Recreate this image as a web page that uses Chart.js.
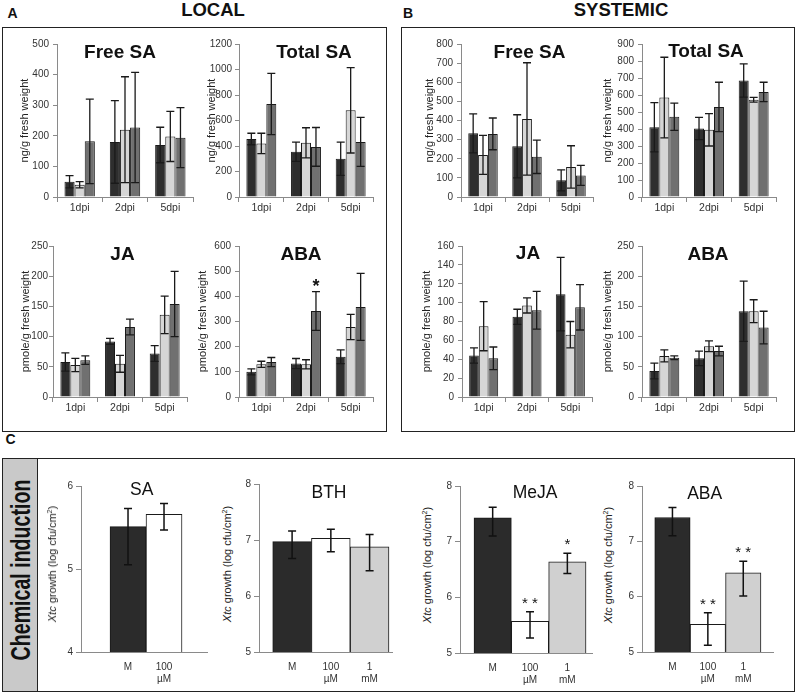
<!DOCTYPE html>
<html><head><meta charset="utf-8">
<script src="https://cdn.jsdelivr.net/npm/chart.js@4.4.1/dist/chart.umd.min.js"></script>
<style>
body{margin:0;width:797px;height:693px;background:#fff;position:relative;overflow:hidden;font-family:'Liberation Sans',Arial,sans-serif;color:#111}
.t{position:absolute;transform:translate(-50%,-50%);white-space:nowrap;line-height:1;z-index:5}
.box{position:absolute;box-sizing:border-box;border:1.5px solid #222}
.vt{position:absolute;transform:translate(-50%,-50%) rotate(-90deg);white-space:nowrap;line-height:1;z-index:5}
canvas{position:absolute}
</style></head>
<body>
<div class="box" style="left:2px;top:27px;width:385px;height:405px"></div>
<div class="box" style="left:401px;top:27px;width:394px;height:405px"></div>
<div class="box" style="left:2px;top:458px;width:793px;height:234px"></div>
<div style="position:absolute;left:2px;top:458px;width:36px;height:234px;box-sizing:border-box;background:#c9c9c9;border:1.5px solid #222"></div>
<div class="t" style="left:12.5px;top:13px;font-size:14px;font-weight:bold">A</div>
<div class="t" style="left:408px;top:13px;font-size:14px;font-weight:bold">B</div>
<div class="t" style="left:10.5px;top:439px;font-size:14px;font-weight:bold">C</div>
<div class="t" style="left:213px;top:10px;font-size:18.5px;font-weight:bold">LOCAL</div>
<div class="t" style="left:621px;top:10px;font-size:18.5px;font-weight:bold">SYSTEMIC</div>
<div class="vt" style="left:21px;top:570px;font-size:28px;font-weight:bold"><span style="display:inline-block;transform:scaleX(0.7)">Chemical induction</span></div>
<script>
// ---------- DATA ----------
const dpiLabels = ['1dpi', '2dpi', '5dpi'];
// each array: [dark series, light series, medium series], values per dpi
const localFreeSA      = [[50, 180, 170], [40, 220, 198], [182, 227, 194]];
const localFreeSAErr   = [[20, 135, 58], [10, 173, 82], [138, 180, 98]];
const localTotalSA     = [[455, 355, 300], [420, 425, 680], [730, 393, 432]];
const localTotalSAErr  = [[45, 75, 130], [80, 118, 335], [240, 152, 192]];
const localJA          = [[58, 92, 72], [53, 55, 136], [61, 116, 154]];
const localJAErr       = [[15, 5, 13], [11, 14, 31], [7, 13, 54]];
const localABA         = [[100, 133, 160], [130, 130, 278], [139, 342, 358]];
const localABAErr      = [[12, 20, 27], [12, 18, 50], [18, 77, 133]];
const localABAStars    = [['', '', ''], ['', '', ''], ['', '*', '']];

const sysFreeSA        = [[333, 265, 87], [220, 408, 157], [330, 210, 113]];
const sysFreeSAErr     = [[102, 165, 55], [102, 294, 111], [83, 87, 52]];
const sysTotalSA       = [[410, 403, 685], [585, 395, 572], [472, 530, 618]];
const sysTotalSAErr    = [[145, 65, 98], [237, 95, 14], [80, 145, 57]];
const sysJA            = [[44, 85, 109], [75, 97, 66], [41, 92, 95]];
const sysJAErr         = [[8, 8, 39], [26, 8, 14], [12, 20, 24]];
const sysABA           = [[43, 64, 142], [68, 84, 142], [65, 76, 115]];
const sysABAErr        = [[13, 12, 50], [10, 9, 19], [3, 8, 27]];

// Panel C: Xtc growth (log cfu/cm2)
const saLabels   = ['M', ['100', 'µM']];
const saValues   = [5.51, 5.66];
const saHigh     = [5.73, 5.79];
const saLow      = [5.05, 5.47];
const treatLabels = ['M', ['100', 'µM'], ['1', 'mM']];
const bthValues  = [6.97, 7.03, 6.88];
const bthHigh    = [7.16, 7.19, 7.10];
const bthLow     = [6.67, 6.79, 6.45];
const mejaValues = [7.43, 5.57, 6.64];
const mejaHigh   = [7.62, 5.74, 6.79];
const mejaLow    = [7.10, 5.27, 6.43];
const mejaStars  = ['', '* *', '*'];
const abaValues  = [7.43, 5.50, 6.43];
const abaHigh    = [7.61, 5.71, 6.64];
const abaLow     = [7.10, 5.12, 6.01];
const abaStars   = ['', '* *', '* *'];

// ---------- RENDERING ----------
const FAM = "'Liberation Sans', Arial, sans-serif";
Chart.defaults.font.family = FAM;
const groupColors = ['#2e2e2e', '#d6d6d6', '#707070'];
const cColors = ['#2b2b2b', '#ffffff', '#d0d0d0'];

const errorBars = {
  id: 'errorBars',
  afterDatasetsDraw(chart, args, o) {
    const ctx = chart.ctx, ys = chart.scales.y;
    chart.data.datasets.forEach((ds, di) => {
      const meta = chart.getDatasetMeta(di);
      meta.data.forEach((bar, i) => {
        if (!ds.errHi || ds.errHi[i] == null) return;
        const x = bar.x, yh = ys.getPixelForValue(ds.errHi[i]), yl = ys.getPixelForValue(ds.errLo[i]);
        ctx.save();
        ctx.strokeStyle = o.color; ctx.lineWidth = o.width;
        ctx.beginPath();
        ctx.moveTo(x, yh); ctx.lineTo(x, yl);
        ctx.moveTo(x - o.cap / 2, yh); ctx.lineTo(x + o.cap / 2, yh);
        ctx.moveTo(x - o.cap / 2, yl); ctx.lineTo(x + o.cap / 2, yl);
        ctx.stroke();
        const s = ds.stars && ds.stars[i];
        if (s) {
          ctx.fillStyle = '#111'; ctx.font = o.starFont; ctx.textAlign = 'center'; ctx.textBaseline = 'alphabetic';
          ctx.fillText(s, x, yh - o.starGap);
        }
        ctx.restore();
      });
    });
  }
};

function addCanvas(left, top, w, h) {
  const c = document.createElement('canvas');
  c.width = w; c.height = h;
  c.style.left = left + 'px'; c.style.top = top + 'px';
  c.style.width = w + 'px'; c.style.height = h + 'px';
  document.body.appendChild(c);
  return c;
}
function addText(html, x, y, css, cls) {
  const d = document.createElement('div');
  d.className = cls || 't';
  d.style.left = x + 'px'; d.style.top = y + 'px';
  d.style.cssText += css;
  d.innerHTML = html;
  document.body.appendChild(d);
}

function groupChart(box, title, titlePos, yTitle, max, step, vals, errs, stars) {
  const PT = 10, PR = 8, XH = 22;
  const left = Math.round(box.titleX - 6.6);
  const yw = box.plotL - left;
  const top = box.plotT - PT;
  const w = box.plotR - left + PR;
  const h = (box.plotB - box.plotT) + PT + XH;
  const cv = addCanvas(left, top, w, h);
  new Chart(cv, {
    type: 'bar',
    data: {
      labels: dpiLabels,
      datasets: vals.map((v, k) => ({
        data: v,
        backgroundColor: groupColors[k],
        borderColor: '#1a1a1a',
        borderWidth: 1,
        errHi: v.map((x, i) => x + errs[k][i]),
        errLo: v.map((x, i) => x - errs[k][i]),
        stars: stars ? stars[k] : null
      }))
    },
    options: {
      responsive: false, animation: false,
      layout: { padding: { top: PT, right: PR, left: 0, bottom: 0 } },
      plugins: {
        legend: { display: false }, tooltip: { enabled: false },
        errorBars: { color: '#1a1a1a', width: 1.3, cap: 8, starFont: 'bold 18px ' + FAM, starGap: 0 }
      },
      datasets: { bar: { barPercentage: 1, categoryPercentage: 0.67 } },
      scales: {
        x: {
          grid: { display: true, drawOnChartArea: false, offset: true, tickLength: 5, color: '#8a8a8a' },
          border: { color: '#8a8a8a' },
          ticks: { font: { size: 10.5 }, color: '#333', padding: 0, maxRotation: 0 },
          afterFit: s => { s.height = XH; }
        },
        y: {
          min: 0, max: max,
          ticks: { stepSize: step, font: { size: 10 }, color: '#333', padding: box.tickPad, callback: v => String(v) },
          grid: { drawOnChartArea: false, tickLength: 4, color: '#8a8a8a' },
          border: { color: '#8a8a8a' },
          title: { display: true, text: yTitle, font: { size: 11 }, color: '#222', padding: { top: 0, bottom: 0 } },
          afterFit: s => { s.width = yw; }
        }
      }
    },
    plugins: [errorBars]
  });
  addText(title, titlePos[0], titlePos[1], 'font-size:19px;font-weight:bold;');
}

function treatChart(box, title, titlePos, yTitlePos, labels, vals, hi, lo, ymin, ymax, xmin, xmax, stars) {
  const PT = 10, PR = 8, XH = 34, YW = 24;
  const left = box.plotL - YW;
  const top = box.plotT - PT;
  const w = box.plotR - left + PR;
  const h = (box.plotB - box.plotT) + PT + XH;
  const cv = addCanvas(left, top, w, h);
  new Chart(cv, {
    type: 'bar',
    data: {
      datasets: [{
        data: vals.map((v, i) => ({ x: i, y: v })),
        backgroundColor: cColors.slice(0, vals.length),
        borderColor: '#1a1a1a',
        borderWidth: 1,
        errHi: hi, errLo: lo,
        stars: stars || null
      }]
    },
    options: {
      responsive: false, animation: false,
      layout: { padding: { top: PT, right: PR, left: 0, bottom: 0 } },
      plugins: {
        legend: { display: false }, tooltip: { enabled: false },
        errorBars: { color: '#111', width: 1.5, cap: 8, starFont: '15px ' + FAM, starGap: 4 }
      },
      datasets: { bar: { barPercentage: 1, categoryPercentage: 1 } },
      scales: {
        x: {
          type: 'linear', offset: false, min: xmin, max: xmax,
          afterBuildTicks: s => { s.ticks = labels.map((_, i) => ({ value: i })); },
          grid: { display: false, tickLength: 6 },
          border: { color: '#8a8a8a' },
          ticks: { font: { size: 10 }, color: '#333', padding: 3, maxRotation: 0, autoSkip: false, callback: v => labels[v] },
          afterFit: s => { s.height = XH; }
        },
        y: {
          min: ymin, max: ymax,
          ticks: { stepSize: 1, font: { size: 10 }, color: '#333', padding: 3 },
          grid: { drawOnChartArea: false, tickLength: 5, color: '#8a8a8a' },
          border: { color: '#8a8a8a' },
          afterFit: s => { s.width = YW; }
        }
      }
    },
    plugins: [errorBars]
  });
  addText(title, titlePos[0], titlePos[1], 'font-size:17.5px;');
  addText('<i>Xtc</i> growth (log cfu/cm<sup style="font-size:7px;vertical-align:4px">2</sup>)', yTitlePos[0], yTitlePos[1], 'font-size:11px;color:#222;', 'vt');
}

// Panel A (LOCAL)
groupChart({ plotL: 57, plotT: 44, plotR: 193, plotB: 197, titleX: 25, tickPad: 4 }, 'Free SA', [120, 51], 'ng/g fresh weight', 500, 100, localFreeSA, localFreeSAErr);
groupChart({ plotL: 239, plotT: 44, plotR: 373, plotB: 197, titleX: 212, tickPad: 3 }, 'Total SA', [314, 51], 'ng/g fresh weight', 1200, 200, localTotalSA, localTotalSAErr);
groupChart({ plotL: 53, plotT: 246, plotR: 187, plotB: 397, titleX: 26, tickPad: 1 }, 'JA', [122.5, 252.5], 'pmole/g fresh weight', 250, 50, localJA, localJAErr);
groupChart({ plotL: 239, plotT: 246, plotR: 373, plotB: 397, titleX: 203, tickPad: 4 }, 'ABA', [301, 253], 'pmole/g fresh weight', 600, 100, localABA, localABAErr, localABAStars);
// Panel B (SYSTEMIC)
groupChart({ plotL: 461, plotT: 44, plotR: 593, plotB: 197, titleX: 430, tickPad: 4 }, 'Free SA', [529.5, 51], 'ng/g fresh weight', 800, 100, sysFreeSA, sysFreeSAErr);
groupChart({ plotL: 642, plotT: 44, plotR: 776, plotB: 197, titleX: 608, tickPad: 4 }, 'Total SA', [706, 50], 'ng/g fresh weight', 900, 100, sysTotalSA, sysTotalSAErr);
groupChart({ plotL: 462, plotT: 246, plotR: 592, plotB: 397, titleX: 427, tickPad: 4 }, 'JA', [528, 252], 'pmole/g fresh weight', 160, 20, sysJA, sysJAErr);
groupChart({ plotL: 642, plotT: 246, plotR: 776, plotB: 397, titleX: 608, tickPad: 4 }, 'ABA', [708, 253], 'pmole/g fresh weight', 250, 50, sysABA, sysABAErr);
// Panel C
treatChart({ plotL: 81, plotT: 486, plotR: 207, plotB: 652 }, 'SA', [141.7, 490], [52, 564], saLabels, saValues, saHigh, saLow, 4, 6, -1.306, 2.194, null);
treatChart({ plotL: 259, plotT: 484, plotR: 392, plotB: 652 }, 'BTH', [329, 493], [227, 564], treatLabels, bthValues, bthHigh, bthLow, 5, 8, -0.854, 2.578, null);
treatChart({ plotL: 460, plotT: 486, plotR: 592, plotB: 653 }, 'MeJA', [535, 493], [427, 565], treatLabels, mejaValues, mejaHigh, mejaLow, 5, 8, -0.875, 2.66, mejaStars);
treatChart({ plotL: 642, plotT: 486, plotR: 773, plotB: 652 }, 'ABA', [704.7, 494], [608, 565], treatLabels, abaValues, abaHigh, abaLow, 5, 8, -0.86, 2.84, abaStars);
</script>
</body></html>
